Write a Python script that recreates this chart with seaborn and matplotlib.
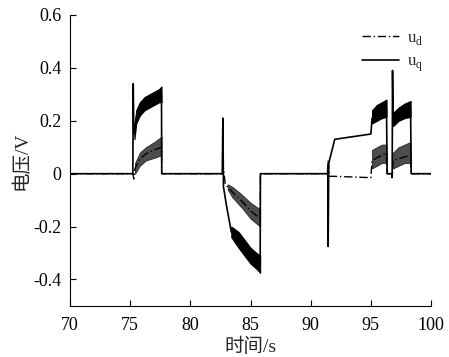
import numpy as np
import pandas as pd
import matplotlib
matplotlib.use('Agg')
import matplotlib.pyplot as plt
import seaborn as sns

# main traces (time in s, voltage in V)
t_q = [70, 75.22, 75.25, 75.3, 75.35, 75.5, 75.8, 76.2, 77.0, 77.6, 77.62,
       82.65, 82.7, 82.75, 83.0, 83.4, 84.0, 84.5, 85.0, 85.5, 85.8, 85.82,
       91.4, 91.43, 91.45, 91.5, 92.0, 95.0, 95.1, 96.3, 96.35, 96.75,
       96.77, 96.8, 96.85, 98.3, 98.35, 100]
u_q = [0, 0, 0.34, 0.15, 0.16, 0.21, 0.245, 0.265, 0.285, 0.30, 0,
       0, 0.21, -0.05, -0.12, -0.22, -0.25, -0.28, -0.31, -0.33, -0.34, 0,
       0, 0.03, -0.275, 0.04, 0.13, 0.15, 0.21, 0.25, 0, 0,
       -0.015, 0.39, 0.20, 0.245, 0, 0]

t_d = [70, 75.22, 75.3, 75.4, 75.8, 76.3, 77.0, 77.6, 77.62,
       82.65, 82.75, 82.9, 83.1, 83.5, 84.3, 85.0, 85.8, 85.82,
       91.4, 91.45, 91.55, 92.0, 95.0, 95.1, 96.3, 96.35, 96.8, 96.85, 98.3, 98.35, 100]
u_d = [0, 0, -0.02, 0.02, 0.055, 0.075, 0.09, 0.10, 0,
       0, 0.02, -0.04, -0.05, -0.07, -0.105, -0.14, -0.17, 0,
       0, 0.05, -0.01, -0.01, -0.015, 0.05, 0.08, 0, 0, 0.05, 0.07, 0, 0]

# oscillation envelopes (lower / upper)
band_q_t = [[75.35, 75.5, 75.8, 76.2, 76.6, 77.0, 77.4, 77.6],
            [83.4, 84.0, 84.5, 85.0, 85.5, 85.8],
            [95.1, 95.5, 95.9, 96.3],
            [96.85, 97.3, 97.8, 98.3]]
band_q_lo = [[0.13, 0.19, 0.22, 0.24, 0.25, 0.26, 0.27, 0.27],
             [-0.24, -0.28, -0.31, -0.34, -0.36, -0.375],
             [0.19, 0.20, 0.21, 0.215],
             [0.18, 0.20, 0.21, 0.215]]
band_q_hi = [[0.18, 0.24, 0.27, 0.29, 0.30, 0.31, 0.32, 0.33],
             [-0.20, -0.22, -0.25, -0.28, -0.30, -0.31],
             [0.24, 0.26, 0.27, 0.28],
             [0.23, 0.25, 0.265, 0.275]]

band_d_t = [[75.4, 75.8, 76.3, 77.0, 77.6],
            [83.1, 83.5, 84.3, 85.0, 85.8],
            [95.1, 95.5, 95.9, 96.3],
            [96.85, 97.3, 97.8, 98.3]]
band_d_lo = [[0.0, 0.03, 0.05, 0.06, 0.07],
             [-0.06, -0.09, -0.13, -0.17, -0.20],
             [0.02, 0.03, 0.04, 0.04],
             [0.02, 0.03, 0.04, 0.04]]
band_d_hi = [[0.04, 0.08, 0.10, 0.12, 0.14],
             [-0.04, -0.05, -0.08, -0.11, -0.135],
             [0.09, 0.10, 0.11, 0.11],
             [0.08, 0.10, 0.11, 0.12]]

x_ticks = [70, 75, 80, 85, 90, 95, 100]
y_ticks = [-0.4, -0.2, 0, 0.2, 0.4, 0.6]
y_tick_labels = ['-0.4', '-0.2', '0', '0.2', '0.4', '0.6']

sns.set_style('ticks', {'xtick.direction': 'in', 'ytick.direction': 'in'})
plt.rcParams['font.family'] = ['Liberation Serif', 'Noto Sans CJK SC']
plt.rcParams['mathtext.fontset'] = 'custom'
plt.rcParams['mathtext.rm'] = 'Liberation Serif'
plt.rcParams['axes.unicode_minus'] = False

fig = plt.figure(figsize=(4.49, 3.57), dpi=100)
ax = fig.add_axes([0.156, 0.143, 0.804, 0.815])

df_d = pd.DataFrame({'t': t_d, 'u': u_d})
df_q = pd.DataFrame({'t': t_q, 'u': u_q})
sns.lineplot(data=df_d, x='t', y='u', ax=ax, sort=False, estimator=None,
             color='black', lw=1.0, linestyle=(0, (6, 2, 1, 2)), label='u$_\\mathregular{d}$')
sns.lineplot(data=df_q, x='t', y='u', ax=ax, sort=False, estimator=None,
             color='black', lw=1.2, label='u$_\\mathregular{q}$')

for bt, lo, hi in zip(band_q_t, band_q_lo, band_q_hi):
    ax.fill_between(bt, lo, hi, color='black', lw=0.8, edgecolor='black')
for bt, lo, hi in zip(band_d_t, band_d_lo, band_d_hi):
    ax.fill_between(bt, lo, hi, color='0.3', lw=0.6, edgecolor='0.15')

ax.set_xlim(70, 100)
ax.set_ylim(-0.5, 0.6)
ax.set_xticks(x_ticks)
ax.set_xticklabels([str(v) for v in x_ticks], fontsize=13)
ax.set_yticks(y_ticks)
ax.set_yticklabels(y_tick_labels, fontsize=13)
ax.tick_params(length=4, width=0.8, colors='black')
ax.tick_params(axis='x', pad=8)
ax.tick_params(axis='y', pad=6)
ax.set_xlabel('时间/s', fontsize=14, labelpad=3)
ax.set_ylabel('电压/V', fontsize=14, labelpad=2)
sns.despine(ax=ax)
for s in ['left', 'bottom']:
    ax.spines[s].set_color('black')
    ax.spines[s].set_linewidth(0.8)

ax.legend(loc='upper right', bbox_to_anchor=(1.02, 1.0), frameon=False,
          fontsize=12, handlelength=2.2, handletextpad=0.5, labelspacing=0.4)

fig.savefig('out.png', dpi=100)
